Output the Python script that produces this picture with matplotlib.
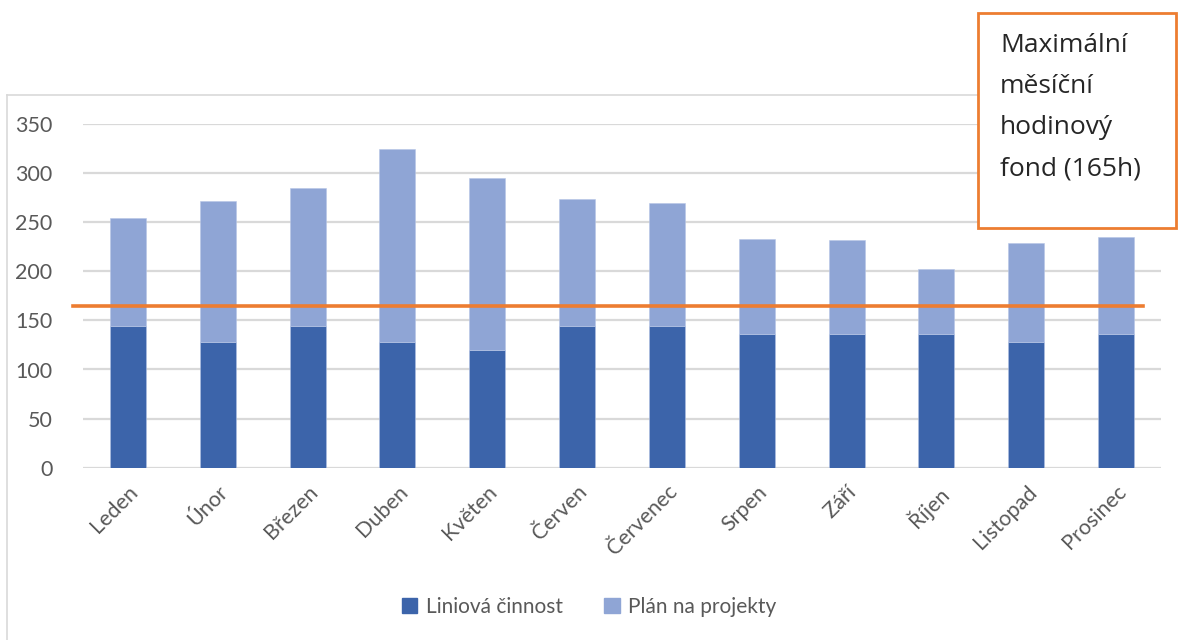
import matplotlib.pyplot as plt
from matplotlib.patches import Rectangle, Patch
import numpy as np

# ----------------------------
# Data
# ----------------------------

mesice = ["Leden", "Únor", "Březen", "Duben", "Květen", "Červen",
          "Červenec", "Srpen", "Září", "Říjen", "Listopad", "Prosinec"]
liniova = [144, 128, 144, 128, 120, 144, 144, 136, 136, 136, 128, 136]
projekty = [110, 144, 141, 197, 175, 130, 126, 97, 96, 66, 101, 99]
fond = 165
y_ticks = [0, 50, 100, 150, 200, 250, 300, 350]

DARK = "#3C64AA"
LIGHT = "#8FA5D5"
ORANGE = "#ED7D31"
GRID = "#D9D9D9"
TXT = "#595959"

plt.rcParams['font.family'] = ['Lato', 'DejaVu Sans']

W, H = 1178, 640
fig = plt.figure(figsize=(W / 100, H / 100), dpi=100)

# axes placed in pixel units
x0, x1 = 83, 1161
y_top, y_bot = 124, 467.7
ax = fig.add_axes([x0 / W, 1 - y_bot / H, (x1 - x0) / W, (y_bot - y_top) / H])

x = np.arange(len(mesice))
ax.bar(x, liniova, width=0.4, color=DARK, edgecolor="#AFC0E3", linewidth=0.4, zorder=3)
ax.bar(x, projekty, width=0.4, bottom=liniova, color=LIGHT, edgecolor="#B7C6E6",
       linewidth=0.4, zorder=3)

# 165h line, a bit wider than the plot on the left
ax.axhline(fond, xmin=-0.0093, xmax=0.983, color=ORANGE, lw=2.6, zorder=4, clip_on=False)

ax.set_xlim(-0.5, len(mesice) - 0.5)
ax.set_ylim(0, 350)
ax.set_yticks(y_ticks)
ax.yaxis.grid(True, color=GRID, lw=1.6, zorder=0)
ax.set_axisbelow(True)
for s in ax.spines.values():
    s.set_visible(False)
ax.tick_params(axis="both", length=0, colors=TXT, labelsize=15.5)
ax.tick_params(axis="y", pad=22)
ax.set_xticks(x)
ax.set_xticklabels(mesice, rotation=45, ha="right", rotation_mode="anchor")
ax.tick_params(axis="x", pad=10)

# chart frame (left and top edges)
fig.add_artist(plt.Line2D([6.5 / W, 6.5 / W], [0, 1 - 95 / H], color=GRID, lw=1.2))
fig.add_artist(plt.Line2D([6.5 / W, 1], [1 - 95 / H, 1 - 95 / H], color=GRID, lw=1.2))

# annotation box
fig.add_artist(Rectangle((978 / W, 1 - 228 / H), (1176 - 978) / W, (228 - 13) / H,
                         transform=fig.transFigure, facecolor="white",
                         edgecolor=ORANGE, lw=2, zorder=5))
fig.text(1000 / W, 1 - 33 / H, "Maximální\nměsíční\nhodinový\nfond (165h)",
         ha="left", va="top", fontsize=19, color="#262626", linespacing=1.85,
         family=['Open Sans', 'DejaVu Sans'], zorder=6)

handles = [Patch(color=DARK, label="Liniová činnost"),
           Patch(color=LIGHT, label="Plán na projekty")]
fig.legend(handles=handles, loc="center", bbox_to_anchor=(0.5, 1 - 607 / H), ncol=2,
           frameon=False, fontsize=15, labelcolor=TXT, handlelength=0.75,
           handleheight=0.75, handletextpad=0.4, columnspacing=2.0)

fig.savefig("out.png", dpi=100, facecolor="white")
